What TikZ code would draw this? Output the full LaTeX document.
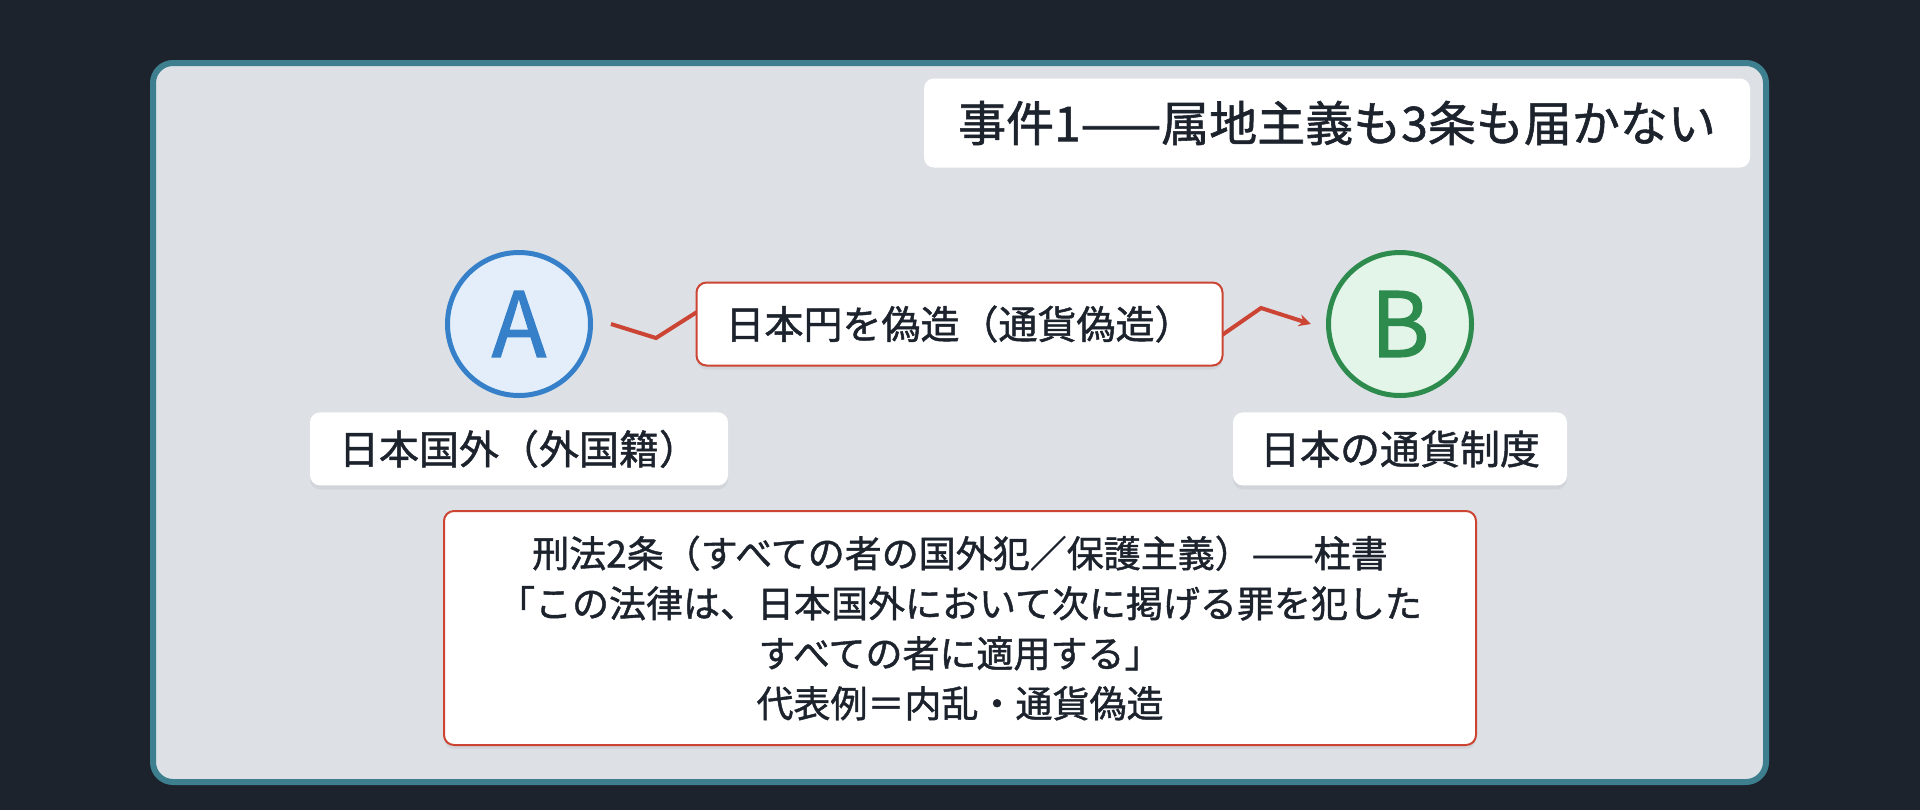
\documentclass[tikz,border=0pt]{standalone}
\usepackage{fontspec}
\setmainfont{Noto Sans CJK JP}[FakeBold=1.2]
\usetikzlibrary{arrows.meta, positioning, calc, shadows}
\definecolor{bgdark}{HTML}{1D232D}
\definecolor{framecol}{HTML}{3D7F8F}
\definecolor{panelcol}{HTML}{DDE1E6}
\definecolor{redcol}{HTML}{CC4433}
\definecolor{bluecol}{HTML}{3580C8}
\definecolor{bluefill}{HTML}{E3EEFA}
\definecolor{greencol}{HTML}{2E8B4E}
\definecolor{greenfill}{HTML}{E3F5E8}
\definecolor{inkcol}{HTML}{1D232D}
\tikzset{
  box/.style = {align=center, inner sep=0pt, text=inkcol, fill=white,
    rounded corners=5pt},% white card
  softshadow/.style = {drop shadow={opacity=0.12, shadow xshift=0pt,
    shadow yshift=-2pt}},
  party_a/.style = {circle, draw=bluecol, fill=bluefill, line width=2.5pt,
    inner sep=0pt, minimum size=71.5pt, text=bluecol,
    font=\fontsize{45}{45}\selectfont},
  party_b/.style = {party_a, draw=greencol, fill=greenfill, text=greencol},
  tag/.style = {box, softshadow, minimum height=36.5pt,
    font=\fontsize{20}{24}\selectfont},% label below a circle
  act/.style = {box, softshadow, draw=redcol, line width=1pt,
    minimum width=263pt, minimum height=41.5pt,
    font=\fontsize{19.5}{24}\selectfont},
  flow/.style = {draw=redcol, line width=2pt, line join=miter,
    -{Stealth[length=6pt, width=6pt]}}
}
\begin{document}
\begin{tikzpicture}[x=0.5pt, y=-0.5pt]
\useasboundingbox (0,0) rectangle (1920,810);
\fill[bgdark] (0,0) rectangle (1920,810);
\draw[framecol, fill=panelcol, line width=3pt, rounded corners=10pt]
  (153,63) rectangle (1766,782);
% title
\node (title) [box, minimum width=413pt, minimum height=44.5pt,
  font=\fontsize{24}{28}\selectfont] at (1337,123) {事件1——属地主義も3条も届かない};
% the two parties
\node (A) [party_a] at (519,324) {A};
\node (B) [party_b] at (1400,324) {B};
\node (lblA) [tag, minimum width=209pt, below=7pt of A] {日本国外（外国籍）};
\node (lblB) [tag, minimum width=167pt, below=7pt of B] {日本の通貨制度};
% the act
\draw[flow] ($(A.east)+(18,0)$) -- ++(45,14) -- ++(63,-40) -- ++(480,53)
  -- ++(62,-43) -- ($(B.west)+(-15,0)$);
\node (act) [act] at ($(A)!0.5!(B)$) {日本円を偽造（通貨偽造）};
% the rule
\node (rule) [box, softshadow, draw=redcol, line width=1pt,
  minimum width=516pt, minimum height=117pt,
  font=\fontsize{18.5}{25}\selectfont] at (960,628)
  {刑法2条（すべての者の国外犯／保護主義）——柱書\\
   「この法律は、日本国外において次に掲げる罪を犯した\\
   すべての者に適用する」\\
   代表例＝内乱・通貨偽造};
\end{tikzpicture}
\end{document}
